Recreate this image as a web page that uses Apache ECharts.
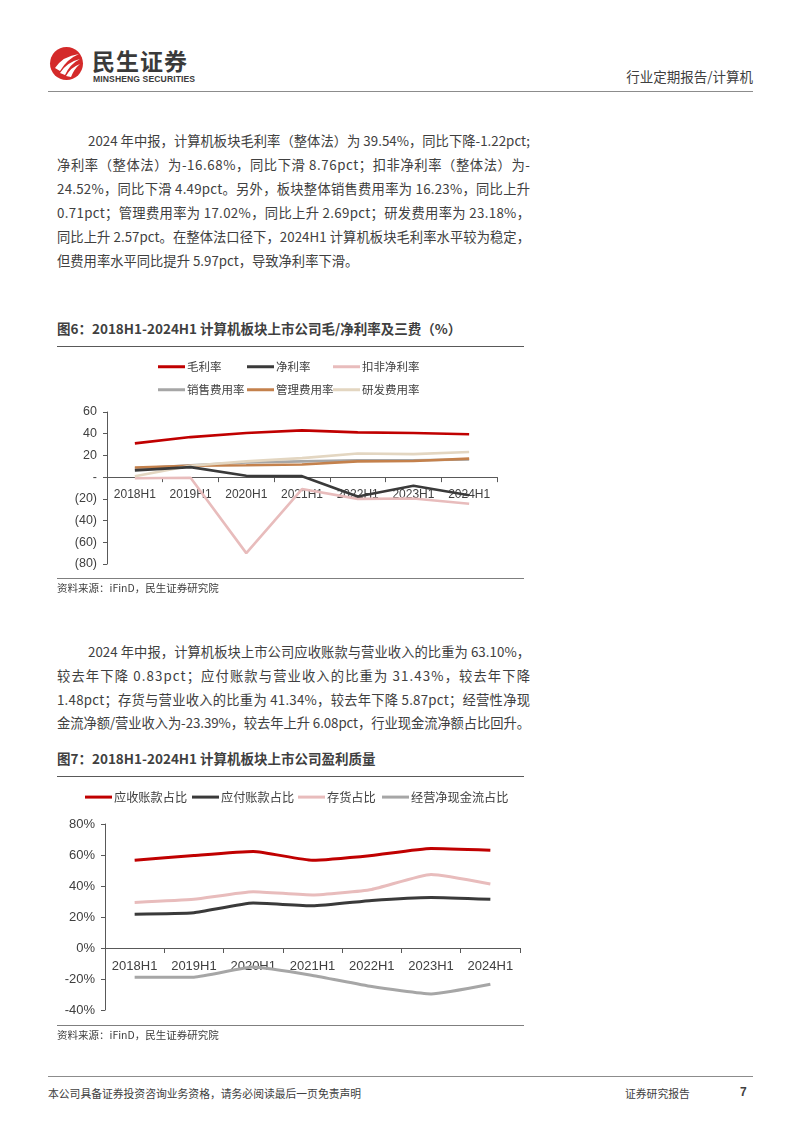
<!DOCTYPE html>
<html>
<head>
<meta charset="utf-8">
<script src="https://cdn.jsdelivr.net/npm/echarts@6/dist/echarts.min.js"></script>
<style>
  html, body { margin:0; padding:0; background:#fff; }
  body { width:802px; height:1133px; position:relative; overflow:hidden;
         font-family:'Noto Sans CJK SC', sans-serif; color:#404040; }
  .abs { position:absolute; }
  .line { position:absolute; font-size:13.3px; line-height:20px; white-space:nowrap; color:#404040; }
  .cap { position:absolute; left:57px; font-size:13.5px; font-weight:bold; color:#404040; line-height:20px; }
  .rule { position:absolute; height:0; }
  .src { position:absolute; left:57px; font-size:10.5px; color:#404040; line-height:14px; }
</style>
</head>
<body>
<!-- header -->
<svg class="abs" style="left:49px;top:46px" width="36" height="36" viewBox="0 0 36 36">
  <circle cx="17.5" cy="17.5" r="16.5" fill="#d42a2a"/>
  <path d="M6 22 Q14 10 30 8 Q18 13 11 25 Z" fill="#fff"/>
  <path d="M11 27 Q18 16 31 13 Q21 18 16 29 Z" fill="#fff"/>
  <path d="M17 30 Q22 21 31 18 Q25 23 22 31 Z" fill="#fff"/>
</svg>
<div class="abs" style="left:92px;top:45px;font-size:23px;font-weight:bold;color:#3a3a3a;letter-spacing:1px;line-height:30px">民生证券</div>
<div class="abs" style="left:93px;top:74px;font-size:8.6px;font-weight:bold;color:#3a3a3a;font-family:'Liberation Sans',Arial,sans-serif;line-height:11px;letter-spacing:0.1px">MINSHENG SECURITIES</div>
<div class="abs" style="right:49px;top:66px;font-size:13.5px;color:#404040;line-height:20px">行业定期报告/计算机</div>
<div class="rule" style="left:48px;top:91px;width:705px;border-top:1.5px solid #8c8c8c"></div>

<div id="para1"></div>
<div class="cap" style="top:318px">图6：2018H1-2024H1 计算机板块上市公司毛/净利率及三费（%）</div>
<div class="rule" style="left:57px;top:346px;width:467px;border-top:1.5px solid #595959"></div>
<div id="chart1" class="abs" style="left:0;top:350px;width:802px;height:230px"></div>
<div class="rule" style="left:57px;top:578px;width:467px;border-top:1px solid #7f7f7f"></div>
<div class="src" style="top:581px">资料来源：iFinD，民生证券研究院</div>

<div id="para2"></div>
<div class="cap" style="top:748px">图7：2018H1-2024H1 计算机板块上市公司盈利质量</div>
<div class="rule" style="left:57px;top:776px;width:467px;border-top:1.5px solid #595959"></div>
<div id="chart2" class="abs" style="left:0;top:780px;width:802px;height:250px"></div>
<div class="rule" style="left:57px;top:1025px;width:467px;border-top:1px solid #7f7f7f"></div>
<div class="src" style="top:1028px">资料来源：iFinD，民生证券研究院</div>

<!-- footer -->
<div class="rule" style="left:48px;top:1076px;width:705px;border-top:1.5px solid #8c8c8c"></div>
<div class="abs" style="left:48px;top:1086px;font-size:10.8px;color:#404040;line-height:14px">本公司具备证券投资咨询业务资格，请务必阅读最后一页免责声明</div>
<div class="abs" style="left:625px;top:1086px;font-size:10.8px;color:#404040;line-height:14px">证券研究报告</div>
<div class="abs" style="left:740px;top:1084px;font-size:12px;font-weight:bold;color:#404040;line-height:16px;font-family:'Liberation Sans',Arial,sans-serif">7</div>

<script>
// ---------- text ----------
const para1Lines = [
  '2024 年中报，计算机板块毛利率（整体法）为 39.54%，同比下降-1.22pct;',
  '净利率（整体法）为-16.68%，同比下滑 8.76pct；扣非净利率（整体法）为-',
  '24.52%，同比下滑 4.49pct。另外，板块整体销售费用率为 16.23%，同比上升',
  '0.71pct；管理费用率为 17.02%，同比上升 2.69pct；研发费用率为 23.18%，',
  '同比上升 2.57pct。在整体法口径下，2024H1 计算机板块毛利率水平较为稳定，',
  '但费用率水平同比提升 5.97pct，导致净利率下滑。'
];
const para2Lines = [
  '2024 年中报，计算机板块上市公司应收账款与营业收入的比重为 63.10%，',
  '较去年下降 0.83pct；应付账款与营业收入的比重为 31.43%，较去年下降',
  '1.48pct；存货与营业收入的比重为 41.34%，较去年下降 5.87pct；经营性净现',
  '金流净额/营业收入为-23.39%，较去年上升 6.08pct，行业现金流净额占比回升。'
];

// ---------- chart 1 data ----------
const categories = ['2018H1','2019H1','2020H1','2021H1','2022H1','2023H1','2024H1'];
const grossMargin        = [31.1, 36.9, 40.6, 43.1, 41.2, 40.6, 39.54];
const netMargin          = [6.2, 9.2, 1.2, 0.9, -17.8, -8.0, -16.68];
const deductedNetMargin  = [-1.0, -0.6, -70.0, -11.0, -20.0, -19.7, -24.52];
const sellingExpense     = [8.0, 11.0, 13.5, 14.5, 15.5, 15.5, 16.23];
const adminExpense       = [8.9, 10.5, 11.0, 11.7, 14.5, 14.8, 17.02];
const rdExpense          = [0.8, 10.5, 14.5, 17.5, 21.8, 21.2, 23.18];

// ---------- chart 2 data ----------
const receivablesRatio = [56.6, 59.7, 62.3, 56.6, 59.7, 64.2, 63.10];
const payablesRatio    = [21.8, 22.7, 29.0, 27.2, 30.7, 32.6, 31.43];
const inventoryRatio   = [29.4, 31.4, 36.3, 34.2, 37.8, 47.4, 41.34];
const operatingCFRatio = [-18.8, -18.8, -12.3, -17.7, -24.9, -29.6, -23.39];

// justified lines: spread each line to the column width via letter-spacing
function renderLines(id, lines, firstCenter, step) {
  const host = document.getElementById(id);
  const left = 57, right = 530, indent = 31;
  lines.forEach((t, i) => {
    const d = document.createElement('div');
    d.className = 'line';
    const x0 = i === 0 ? left + indent : left;
    d.style.left = x0 + 'px';
    d.style.top = (firstCenter + i * step - 10) + 'px';
    d.textContent = t;
    host.appendChild(d);
    const isLast = i === lines.length - 1;
    const w = d.getBoundingClientRect().width;
    const target = right - x0;
    const n = Array.from(t).length;
    if (!isLast || w > target) {
      d.style.letterSpacing = ((target - w) / (n - 1)) + 'px';
    }
  });
}
renderLines('para1', para1Lines, 141, 24);
renderLines('para2', para2Lines, 652, 23.8);

const FONT = "'Liberation Sans', Arial, 'Noto Sans CJK SC', sans-serif";
const CJK = "'Noto Sans CJK SC', sans-serif";

function legendAt(name, left, top, size) {
  return { data:[name], left:left, top:top, padding:0, icon:'rect',
           itemWidth:27, itemHeight:3, itemGap:0,
           textStyle:{ fontFamily:CJK, fontSize:size, color:'#404040', padding:[0,0,0,-3] } };
}

// ---------- chart 1 ----------
const c1 = echarts.init(document.getElementById('chart1'));
const g1 = { left:107, right:305, top:62, bottom:16 };
const y1 = { min:-80, max:60 };
const g1h = 230 - g1.top - g1.bottom;
const s1 = [
  { name:'毛利率', data:grossMargin, color:'#c00000', z:5 },
  { name:'净利率', data:netMargin, color:'#3a3a3a', z:4 },
  { name:'扣非净利率', data:deductedNetMargin, color:'#e8bcbc', z:3 },
  { name:'销售费用率', data:sellingExpense, color:'#a6a6a6', z:2 },
  { name:'管理费用率', data:adminExpense, color:'#c4814c', z:2 },
  { name:'研发费用率', data:rdExpense, color:'#e3d6c1', z:3 }
];
c1.setOption({
  animation:false,
  legend:[
    legendAt('毛利率',158,11,11.5), legendAt('净利率',247,11,11.5), legendAt('扣非净利率',333,11,11.5),
    legendAt('销售费用率',158,34,11.5), legendAt('管理费用率',247,34,11.5), legendAt('研发费用率',333,34,11.5)
  ],
  grid:g1,
  xAxis:{ type:'category', data:categories, boundaryGap:true,
    offset: -(0 - y1.min) / (y1.max - y1.min) * g1h,
    axisLine:{ onZero:false, lineStyle:{ color:'#595959', width:1 } },
    axisTick:{ show:true, length:5, lineStyle:{ color:'#595959' } },
    axisLabel:{ fontFamily:FONT, fontSize:12, color:'#404040', margin:12 } },
  yAxis:{ type:'value', min:y1.min, max:y1.max, interval:20,
    splitLine:{ show:false },
    axisLine:{ show:true, lineStyle:{ color:'#595959', width:1 } },
    axisTick:{ show:true, length:4, lineStyle:{ color:'#595959' } },
    axisLabel:{ fontFamily:FONT, fontSize:12.5, color:'#404040', margin:10,
      formatter: v => v > 0 ? String(v) : (v === 0 ? '-' : '(' + Math.abs(v) + ')') } },
  series: s1.map(s => ({ name:s.name, type:'line', data:s.data, z:s.z, symbol:'none',
    lineStyle:{ color:s.color, width:2.6 }, itemStyle:{ color:s.color } }))
});

// ---------- chart 2 ----------
const c2 = echarts.init(document.getElementById('chart2'));
const g2 = { left:105, right:282, top:44, bottom:20 };
const y2 = { min:-40, max:80 };
const g2h = 250 - g2.top - g2.bottom;
const s2 = [
  { name:'应收账款占比', data:receivablesRatio, color:'#c00000' },
  { name:'应付账款占比', data:payablesRatio, color:'#3a3a3a' },
  { name:'存货占比', data:inventoryRatio, color:'#e8bcbc' },
  { name:'经营净现金流占比', data:operatingCFRatio, color:'#a6a6a6' }
];
c2.setOption({
  animation:false,
  legend:[
    legendAt('应收账款占比',85,11,12.2), legendAt('应付账款占比',192,11,12.2),
    legendAt('存货占比',298,11,12.2), legendAt('经营净现金流占比',382,11,12.2)
  ],
  grid:g2,
  xAxis:{ type:'category', data:categories, boundaryGap:true,
    offset: -(0 - y2.min) / (y2.max - y2.min) * g2h,
    axisLine:{ onZero:false, lineStyle:{ color:'#595959', width:1 } },
    axisTick:{ show:true, length:5, lineStyle:{ color:'#595959' } },
    axisLabel:{ fontFamily:FONT, fontSize:13, color:'#404040', margin:12 } },
  yAxis:{ type:'value', min:y2.min, max:y2.max, interval:20,
    splitLine:{ show:false },
    axisLine:{ show:true, lineStyle:{ color:'#595959', width:1 } },
    axisTick:{ show:true, length:4, lineStyle:{ color:'#595959' } },
    axisLabel:{ fontFamily:FONT, fontSize:13, color:'#404040', margin:10,
      formatter: v => v + '%' } },
  series: s2.map(s => ({ name:s.name, type:'line', data:s.data, symbol:'none', smooth:0.15,
    lineStyle:{ color:s.color, width:3 }, itemStyle:{ color:s.color } }))
});
</script>
</body>
</html>
